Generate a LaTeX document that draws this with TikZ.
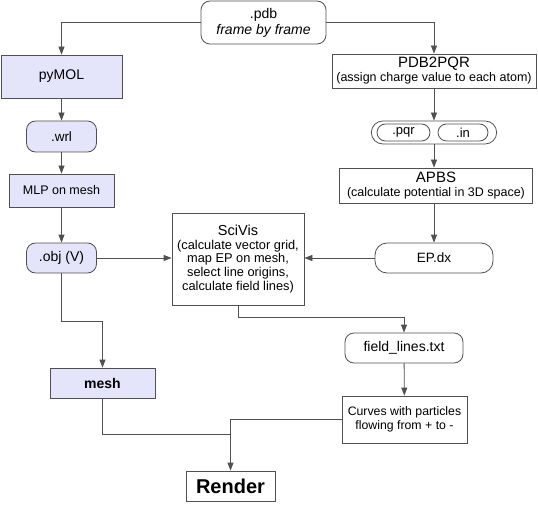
\documentclass[tikz,border=0pt]{standalone}
\usepackage{fontspec}
\setmainfont{Liberation Sans}
\usetikzlibrary{arrows.meta,shapes.misc}
\definecolor{lav}{RGB}{228,228,250}
\definecolor{edgegray}{RGB}{80,80,80}

\begin{document}
\begin{tikzpicture}[->,>={Triangle[length=8pt,width=6pt]},x=1pt,y=-1pt,line width=0.8pt,draw=edgegray]
  \tikzstyle{box}=[rectangle,draw=edgegray,fill=white,align=center,inner sep=1pt,font=\fontsize{12.5}{14}\selectfont]
  \tikzstyle{mol}=[box,fill=lav]
  \tikzstyle{file}=[box,rounded corners=9pt]

  \useasboundingbox (0,0) rectangle (538,505);

  \node[file,minimum width=125pt,minimum height=43pt,font=\fontsize{14}{16}\selectfont] (pdb) at (263.5,22.5) {.pdb\\\textit{frame by frame}};
  \node[mol,minimum width=121pt,minimum height=43pt,font=\fontsize{14}{16}\selectfont] (pymol) at (61.5,76.5) {pyMOL};
  \node[file,fill=lav,minimum width=70pt,minimum height=31pt,font=\fontsize{13.5}{16}\selectfont] (wrl) at (61.5,136.5) {.wrl};
  \node[mol,minimum width=105pt,minimum height=33pt] (mlp) at (61.5,190.5) {MLP on mesh};
  \node[file,fill=lav,minimum width=70pt,minimum height=30pt,font=\fontsize{14}{16}\selectfont] (obj) at (61.5,258) {.obj (V)};
  \node[box,minimum width=132pt,minimum height=92pt,font=\fontsize{12.8}{13.6}\selectfont] (scivis) at (238,259) {{\fontsize{14.5}{16}\selectfont SciVis}\\(calculate vector grid,\\map EP on mesh,\\select line origins,\\calculate field lines)};
  \node[mol,minimum width=105pt,minimum height=30pt,font=\fontsize{14}{16}\selectfont\bfseries] (mesh) at (102.5,383) {mesh};

  \node[box,minimum width=204pt,minimum height=34pt] (pdb2pqr) at (434,71) {{\fontsize{15}{17}\selectfont PDB2PQR}\\(assign charge value to each atom)};
  \node[draw=edgegray,rounded rectangle,minimum width=132pt,minimum height=23pt] (pqrin) at (434,132.5) {};
  \node[draw=edgegray,rounded rectangle,minimum width=55pt,minimum height=17pt,inner sep=1pt,font=\fontsize{13}{15}\selectfont] (pqr) at (403.5,132.5) {.pqr};
  \node[draw=edgegray,rounded rectangle,minimum width=52pt,minimum height=17pt,inner sep=1pt,font=\fontsize{13}{15}\selectfont] (in) at (463,132.5) {.in};
  \node[box,minimum width=193pt,minimum height=35pt] (apbs) at (436,185.5) {{\fontsize{15}{17}\selectfont APBS}\\(calculate potential in 3D space)};
  \node[file,rounded corners=12pt,minimum width=118pt,minimum height=30pt,font=\fontsize{13.5}{16}\selectfont] (epdx) at (434,258) {EP.dx};
  \node[file,minimum width=118pt,minimum height=30pt,font=\fontsize{14}{16}\selectfont] (field) at (404,348) {field\_lines.txt};
  \node[box,minimum width=125pt,minimum height=47pt,font=\fontsize{12.3}{14.5}\selectfont] (curves) at (404.5,419.5) {Curves with particles\\flowing from + to -};
  \node[box,minimum width=89pt,minimum height=30pt,font=\fontsize{20}{22}\selectfont\bfseries] (render) at (230.5,486) {Render};
  \coordinate (join) at (230.5,434);

  % left branch
  \draw (pdb.west) -| (pymol.north);
  \draw (pymol) -- (wrl);
  \draw (wrl) -- (mlp);
  \draw (mlp) -- (obj);
  \draw (obj.east) -- (obj.east -| scivis.west);
  \draw (obj.south) -- ++(0,48) -| (mesh.north);
  \draw[-] (mesh.south) |- (join);

  % right branch
  \draw (pdb.east) -| (pdb2pqr.north);
  \draw (pdb2pqr) -- (pqrin);
  \draw (pqrin.south) -- (pqrin.south |- apbs.north);
  \draw (apbs.south -| epdx.north) -- (epdx.north);
  \draw (epdx.west) -- (epdx.west -| scivis.east);
  \draw (scivis.south) -- ++(0,12) -| (field.north);
  \draw (field) -- (curves);
  \draw (curves.west) -| (render.north);
\end{tikzpicture}
\end{document}
